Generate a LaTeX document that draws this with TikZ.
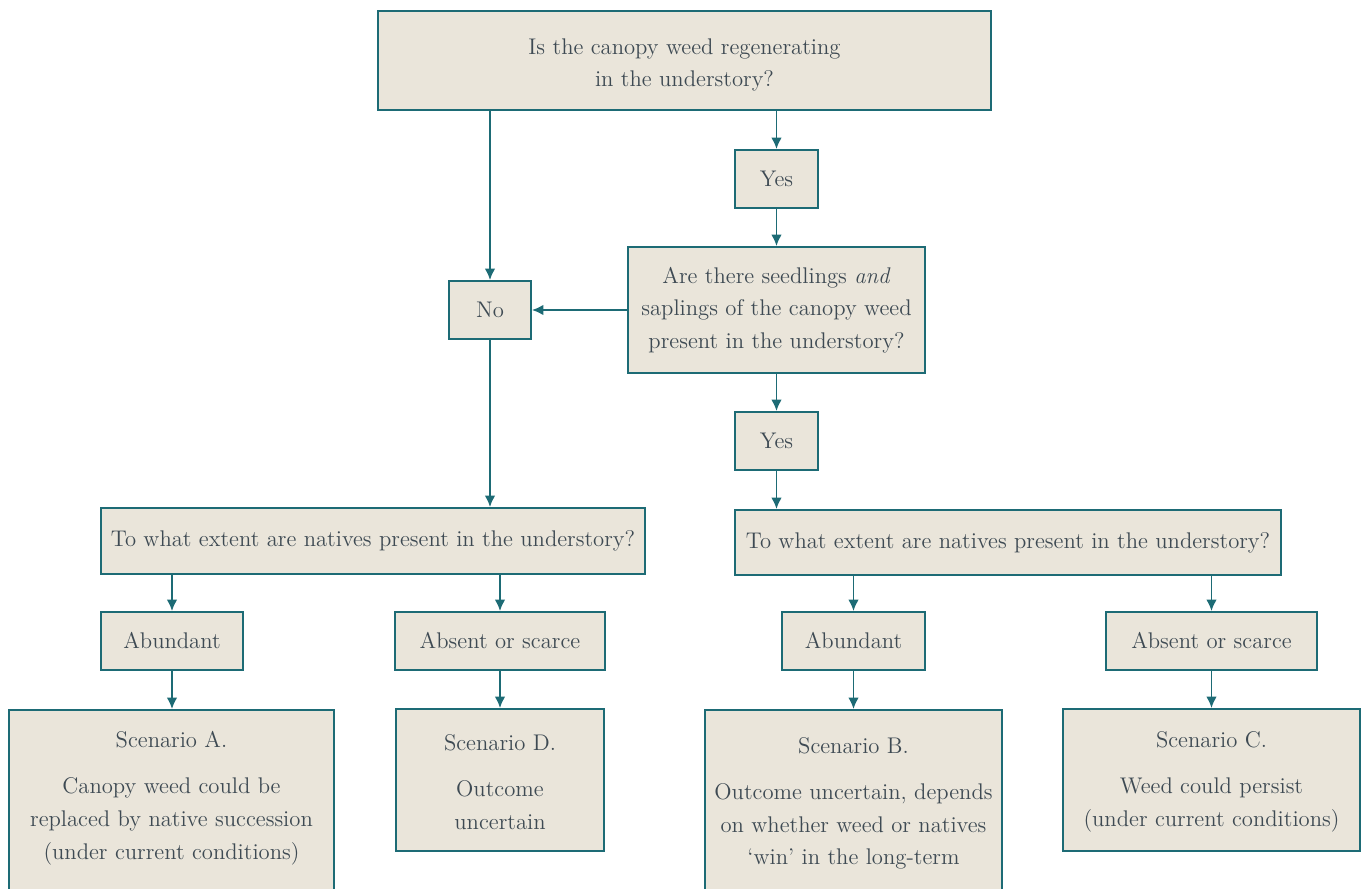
\documentclass[tikz,border=0pt]{standalone}
\usepackage[dvipsnames]{xcolor}
\usetikzlibrary{arrows.meta}
\usetikzlibrary{positioning}
\definecolor{boxfill}{HTML}{EAE5DA}
\definecolor{tealline}{HTML}{1D6B75}
\definecolor{inkgrey}{HTML}{3E4A53}

\tikzset{
  box/.style={draw=tealline, line width=1.1pt, fill=boxfill, text=inkgrey,
    align=center, inner sep=0pt, font=\fontsize{12.9}{18.6}\selectfont},
  boxtext/.style={text=inkgrey, align=center, inner sep=0pt,
    font=\fontsize{12.9}{18.6}\selectfont},
  pfeil/.style={draw=tealline, line width=1pt, -{Latex[length=6.5pt,width=6pt]}},
}

\begin{document}
\begin{tikzpicture}[x=0.02cm, y=-0.02cm]

  \useasboundingbox (0,0) rectangle (1366,889);
  \clip (0,0) rectangle (1366,889);

  % Fragen
  \node[box, minimum width=12.26cm, minimum height=1.98cm] (frage1) at (684.5,60.5)
    {\rule{0pt}{14pt}Is the canopy weed regenerating\\in the understory?};
  \node[box, minimum width=5.94cm, minimum height=2.52cm] (frage2) at (776.5,310)
    {Are there seedlings \textit{and}\\saplings of the canopy weed\\present in the understory?};
  \node[box, minimum width=10.88cm, minimum height=1.32cm] (frage3l) at (373,541)
    {To what extent are natives present in the understory?};
  \node[box, minimum width=10.92cm, minimum height=1.30cm] (frage3r) at (1008,542.5)
    {To what extent are natives present in the understory?};

  % Antworten
  \node[box, minimum width=1.66cm, minimum height=1.16cm] (ja1) at (776.5,179) {Yes};
  \node[box, minimum width=1.66cm, minimum height=1.16cm] (ja2) at (776.5,441) {Yes};
  \node[box, minimum width=1.64cm, minimum height=1.16cm] (nein) at (490,310) {No};
  \node[box, minimum width=2.84cm, minimum height=1.16cm] (vielL) at (172,641) {Abundant};
  \node[box, minimum width=4.20cm, minimum height=1.16cm] (wenigL) at (500,641) {Absent or scarce};
  \node[box, minimum width=2.86cm, minimum height=1.16cm] (vielR) at (853.5,641) {Abundant};
  \node[box, minimum width=4.22cm, minimum height=1.16cm] (wenigR) at (1211.5,641) {Absent or scarce};

  % Szenarien
  \node[box, anchor=north, minimum width=6.50cm, minimum height=4cm] (szenA) at (171.5,709) {};
  \node[boxtext, below=12.5pt of szenA.north]
    {Scenario A.\\[7.7pt]Canopy weed could be\\replaced by native succession\\(under current conditions)};
  \node[box, anchor=north, minimum width=5.94cm, minimum height=4cm] (szenB) at (853.5,709) {};
  \node[boxtext, below=16pt of szenB.north]
    {Scenario B.\\[7.7pt]Outcome uncertain, depends\\on whether weed or natives\\`win' in the long-term};
  \node[box, minimum width=5.94cm, minimum height=2.84cm] (szenC) at (1211.5,780)
    {\rule{0pt}{11pt}Scenario C.\\[7.7pt]Weed could persist\\(under current conditions)};
  \node[box, minimum width=4.16cm, minimum height=2.84cm] (szenD) at (500,780)
    {\rule{0pt}{11pt}Scenario D.\\[7.7pt]Outcome\\uncertain};

  % Pfeile
  \draw[pfeil] (frage1.south -| nein) -- (nein);
  \draw[pfeil] (frage1.south -| ja1) -- (ja1);
  \draw[pfeil] (ja1) -- (frage2);
  \draw[pfeil] (frage2) -- (nein);
  \draw[pfeil] (frage2) -- (ja2);
  \draw[pfeil] (ja2) -- (ja2 |- frage3r.north);
  \draw[pfeil] (nein) -- (nein |- frage3l.north);
  \draw[pfeil] (frage3l.south -| vielL) -- (vielL);
  \draw[pfeil] (frage3l.south -| wenigL) -- (wenigL);
  \draw[pfeil] (frage3r.south -| vielR) -- (vielR);
  \draw[pfeil] (frage3r.south -| wenigR) -- (wenigR);
  \draw[pfeil] (vielL) -- (vielL |- szenA.north);
  \draw[pfeil] (wenigL) -- (szenD);
  \draw[pfeil] (vielR) -- (szenB);
  \draw[pfeil] (wenigR) -- (szenC);

\end{tikzpicture}
\end{document}
